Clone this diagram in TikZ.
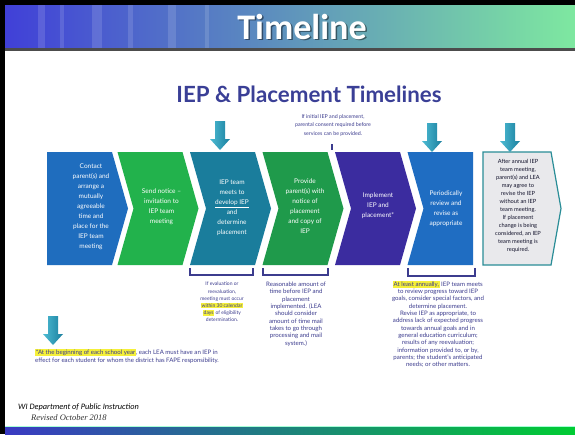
\documentclass[tikz,border=0pt]{standalone}
\usepackage{fontspec}
\setmainfont{Lato}
\newfontfamily\calibrifont{Carlito}
\newfontfamily\timesfont{Liberation Serif}
\usepackage{tikz}
\usetikzlibrary{calc}

\definecolor{chevA}{HTML}{1F6DBE}
\definecolor{chevB}{HTML}{22B24C}
\definecolor{chevC}{HTML}{1A7D9C}
\definecolor{chevD}{HTML}{1F9A4B}
\definecolor{chevE}{HTML}{3B2C9F}
\definecolor{chevF}{HTML}{1F6DC2}
\definecolor{boxgray}{HTML}{E9E9EC}
\definecolor{boxline}{HTML}{2A8D97}
\definecolor{navytext}{HTML}{3C3C8E}
\definecolor{headline}{HTML}{3A3F96}
\definecolor{markyellow}{HTML}{F5F03A}
\definecolor{barblue}{HTML}{4040D8}
\definecolor{barteal}{HTML}{40B8C8}
\definecolor{bargreen}{HTML}{7EE8A0}
\definecolor{arrowlight}{HTML}{4DBBD3}
\definecolor{arrowdark}{HTML}{1A7F9E}

\newcommand\hl[1]{{\setlength{\fboxsep}{0.6pt}\colorbox{markyellow}{#1}}}

\tikzset{
  steptext/.style={text=white, align=center, inner sep=0pt,
    font=\fontsize{6.5}{10}\selectfont},
  notetext/.style={text=navytext, align=center, inner sep=0pt,
    font=\fontsize{6.1}{7.3}\selectfont},
  bracketline/.style={draw=navytext, line width=1.3pt},
}

\begin{document}
\begin{tikzpicture}[x=1pt, y=-1pt]
	\useasboundingbox (0,0) rectangle (575,434);
	\fill[white] (0,0) rectangle (575,434);

	% title bar
	\shade[left color=barblue, middle color=barteal, right color=bargreen] (5,5) rectangle (575,48);
	\foreach \sx/\sw in {38/7, 60/4, 92/10, 128/5, 168/8, 205/4}
		\fill[white, opacity=0.13] (\sx,5) rectangle ++(\sw,43);
	\fill[gray!60!black] (5,48) rectangle (575,50.5);
	\node[font=\calibrifont\fontsize{36}{40}\selectfont\bfseries, text=black, opacity=0.45, anchor=base] (titleshadow) at (303.5,40.5) {Timeline};
	\node[font=\calibrifont\fontsize{36}{40}\selectfont\bfseries, text=white, anchor=base] (title) at (302,39) {Timeline};

	% bottom bar and frame
	\fill[green!45!cyan!35] (5,426) rectangle (575,427.5);
	\shade[left color=barblue!90!black, middle color=cyan!60!teal, right color=green!60!teal] (5,427.5) rectangle (575,434);
	\fill[black] (0,0) rectangle (5,434);
	\fill[black] (0,0) rectangle (575,5);

	\node[font=\fontsize{22.3}{25}\selectfont\bfseries, text=headline, anchor=base] (heading) at (309,102) {IEP \& Placement Timelines};

	% steps
	\fill[chevA] (47,152) -- (112,152) -- (128,208.5) -- (112,265) -- (47,265) -- cycle;
	\foreach \L/\col in {117.5/chevB, 190/chevC, 262.5/chevD, 335/chevE}
		\fill[\col] (\L,152) -- ++(65,0) -- ++(16,56.5) -- ++(-16,56.5) -- ++(-65,0) -- ++(16,-56.5) -- cycle;
	\fill[chevF] (407.5,152) -- (473,152) -- (473,265) -- (407.5,265) -- (423.5,208.5) -- cycle;
	\filldraw[fill=boxgray, draw=boxline, line width=1.2pt] (483,152) -- (551,152) -- (561,208.5) -- (551,265) -- (483,265) -- cycle;

	\node[steptext] (contact) at (91,207) {Contact\\parent(s) and\\arrange a\\mutually\\agreeable\\time and\\place for the\\IEP team\\meeting};
	\node[steptext] (notice) at (161.5,207) {Send notice --\\invitation to\\IEP team\\meeting};
	\node[steptext] (develop) at (232,208) {IEP team\\meets to\\\underline{develop IEP}\\and\\determine\\placement};
	\node[steptext] (provide) at (305,206) {Provide\\parent(s) with\\notice of\\placement\\and copy of\\IEP};
	\node[steptext] (implement) at (378,206) {Implement\\IEP and\\placement*};
	\node[steptext] (review) at (446,209) {Periodically\\review and\\revise as\\appropriate};
	\node[steptext, text=black!70!navytext, font=\fontsize{5.7}{8}\selectfont] (annual) at (518,206) {After annual IEP\\team meeting,\\parent(s) and LEA\\may agree to\\revise the IEP\\without an IEP\\team meeting.\\If placement\\change is being\\considered, an IEP\\team meeting is\\required.};

	% arrows
	\foreach \ax/\ay in {220/121, 432/123, 510/123, 53/316}
		\shade[left color=arrowlight, right color=arrowdark, shift={(\ax,\ay)}]
			(-5,0) -- (5,0) -- (5,18) -- (10,18) -- (0,29) -- (-10,18) -- (-5,18) -- cycle;

	% notes
	\node[notetext, font=\fontsize{5.3}{8.5}\selectfont] (consent) at (333,125) {If initial IEP and placement,\\parental consent required before\\services can be provided.};
	\draw[bracketline] ($(consent.south)+(-1,8)$) -- ++(0,6);

	\draw[bracketline] (190,268) -- (190,275) -- (253,275) -- (253,268);
	\draw[bracketline] (263,268) -- (263,275) -- (328,275) -- (328,268);
	\draw[bracketline] (408,268) -- (408,276) -- (475,276) -- (475,268);

	\node[notetext, font=\fontsize{5}{7.2}\selectfont, anchor=north] (evaluation) at (222,282) {If evaluation or\\reevaluation,\\meeting must occur\\\hl{within 30 calendar}\\\hl{days} of eligibility\\determination.};
	\node[notetext, anchor=north] (reasonable) at (296,282) {Reasonable amount of\\time before IEP and\\placement\\implemented. (LEA\\should consider\\amount of time mail\\takes to go through\\processing and mail\\system.)};
	\node[notetext, anchor=north] (atleast) at (438,281) {\hl{At least annually,} IEP team meets\\to review progress toward IEP\\goals, consider special factors, and\\determine placement.\\Revise IEP as appropriate, to\\address lack of expected progress\\towards annual goals and in\\general education curriculum;\\results of any reevaluation;\\information provided to, or by,\\parents; the student's anticipated\\needs; or other matters.};

	\node[notetext, align=left, anchor=north west, font=\fontsize{6.1}{8}\selectfont] (schoolyear) at (35,349) {\hl{*At the beginning of each school year}, each LEA must have an IEP in\\effect for each student for whom the district has FAPE responsibility.};

	% footer
	\node[anchor=base west, inner sep=0pt, font=\calibrifont\itshape\fontsize{8.3}{9}\selectfont] (dpi) at (18,409) {WI Department of Public Instruction};
	\node[anchor=base west, inner sep=0pt, font=\timesfont\itshape\fontsize{8.5}{9}\selectfont, text=black!80] (revised) at (31,420) {Revised October 2018};
\end{tikzpicture}
\end{document}
